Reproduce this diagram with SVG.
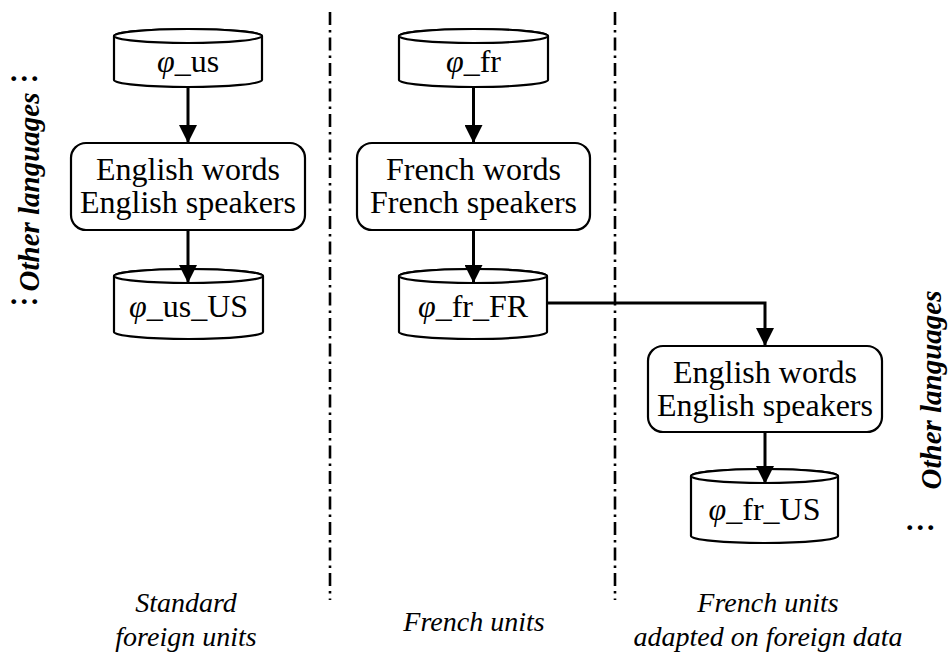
<svg xmlns="http://www.w3.org/2000/svg" width="948" height="661" viewBox="0 0 948 661">
<style>
  .shape { fill: #ffffff; stroke: #000000; stroke-width: 2.2; }
  .lbl { font-family: "Liberation Serif", "Times New Roman", serif; font-size: 32px; fill: #000; text-anchor: middle; }
  .cap { font-family: "Liberation Serif", "Times New Roman", serif; font-size: 28px; font-style: italic; fill: #000; text-anchor: middle; }
  .side { font-family: "Liberation Serif", "Times New Roman", serif; font-size: 29px; font-style: italic; font-weight: bold; fill: #000; text-anchor: middle; }
  .dots { font-family: "Liberation Serif", "Times New Roman", serif; font-size: 30px; font-weight: bold; fill: #000; letter-spacing: 3px; }
  .phi { font-style: italic; }
  .conn { fill: none; stroke: #000; stroke-width: 3; }
  .divider { fill: none; stroke: #000; stroke-width: 2.6; stroke-dasharray: 13 5 2.5 5; }
</style>
<defs>
  <marker id="arrow" viewBox="0 0 10 10" refX="10" refY="5" markerWidth="6" markerHeight="6" markerUnits="strokeWidth" orient="auto">
    <path d="M0,0 L10,5 L0,10 Z" fill="#000"/>
  </marker>
</defs>
<rect width="948" height="661" fill="#ffffff"/>

<g id="dividers">
  <line class="divider" x1="330" y1="12" x2="330" y2="600"/>
  <line class="divider" x1="615" y1="12" x2="615" y2="600"/>
</g>

<g id="phi_us">
  <path class="shape" d="M114,36 V80 A74,7 0 0 0 262,80 V36 A74,7 0 0 0 114,36 Z"/>
  <ellipse class="shape" cx="188" cy="36" rx="74" ry="7"/>
  <text class="lbl" x="188" y="72"><tspan class="phi">φ</tspan>_us</text>
</g>

<g id="english_box_1">
  <rect class="shape" x="71" y="143" width="234" height="87" rx="15" ry="15"/>
  <text class="lbl" x="188" y="180">English words</text>
  <text class="lbl" x="188" y="213">English speakers</text>
</g>

<g id="phi_us_US">
  <path class="shape" d="M114,276 V332 A74.5,7 0 0 0 263,332 V276 A74.5,7 0 0 0 114,276 Z"/>
  <ellipse class="shape" cx="188.5" cy="276" rx="74.5" ry="7"/>
  <text class="lbl" x="188.5" y="317"><tspan class="phi">φ</tspan>_us_US</text>
</g>

<g id="phi_fr">
  <path class="shape" d="M399,36 V80 A74.5,7 0 0 0 548,80 V36 A74.5,7 0 0 0 399,36 Z"/>
  <ellipse class="shape" cx="473.5" cy="36" rx="74.5" ry="7"/>
  <text class="lbl" x="473.5" y="72"><tspan class="phi">φ</tspan>_fr</text>
</g>

<g id="french_box">
  <rect class="shape" x="357" y="143" width="233" height="87" rx="15" ry="15"/>
  <text class="lbl" x="473.5" y="180">French words</text>
  <text class="lbl" x="473.5" y="213">French speakers</text>
</g>

<g id="phi_fr_FR">
  <path class="shape" d="M399,276 V332 A74,7 0 0 0 547,332 V276 A74,7 0 0 0 399,276 Z"/>
  <ellipse class="shape" cx="473" cy="276" rx="74" ry="7"/>
  <text class="lbl" x="473" y="317"><tspan class="phi">φ</tspan>_fr_FR</text>
</g>

<g id="english_box_2">
  <rect class="shape" x="648" y="346" width="234" height="86" rx="15" ry="15"/>
  <text class="lbl" x="765" y="383">English words</text>
  <text class="lbl" x="765" y="416">English speakers</text>
</g>

<g id="phi_fr_US">
  <path class="shape" d="M691,476 V536 A73.5,7 0 0 0 838,536 V476 A73.5,7 0 0 0 691,476 Z"/>
  <ellipse class="shape" cx="764.5" cy="476" rx="73.5" ry="7"/>
  <text class="lbl" x="764.5" y="520"><tspan class="phi">φ</tspan>_fr_US</text>
</g>

<g id="connectors">
  <line class="conn" x1="188" y1="87" x2="188" y2="143" marker-end="url(#arrow)"/>
  <line class="conn" x1="188" y1="230" x2="188" y2="283" marker-end="url(#arrow)"/>
  <line class="conn" x1="473.5" y1="87" x2="473.5" y2="143" marker-end="url(#arrow)"/>
  <line class="conn" x1="473.5" y1="230" x2="473.5" y2="283" marker-end="url(#arrow)"/>
  <path class="conn" d="M548,303 H765 V346" marker-end="url(#arrow)"/>
  <line class="conn" x1="765" y1="432" x2="765" y2="484" marker-end="url(#arrow)"/>
</g>

<g id="side_labels">
  <text class="dots" x="10" y="81">...</text>
  <text class="side" transform="translate(39,192) rotate(-90)" x="0" y="0">Other languages</text>
  <text class="dots" x="10" y="304">...</text>
  <text class="side" transform="translate(941,390) rotate(-90)" x="0" y="0">Other languages</text>
  <text class="dots" x="906" y="530">...</text>
</g>

<g id="captions">
  <text class="cap" x="186" y="612">Standard</text>
  <text class="cap" x="186" y="646">foreign units</text>
  <text class="cap" x="474" y="631">French units</text>
  <text class="cap" x="768" y="612">French units</text>
  <text class="cap" x="768" y="646">adapted on foreign data</text>
</g>
</svg>
